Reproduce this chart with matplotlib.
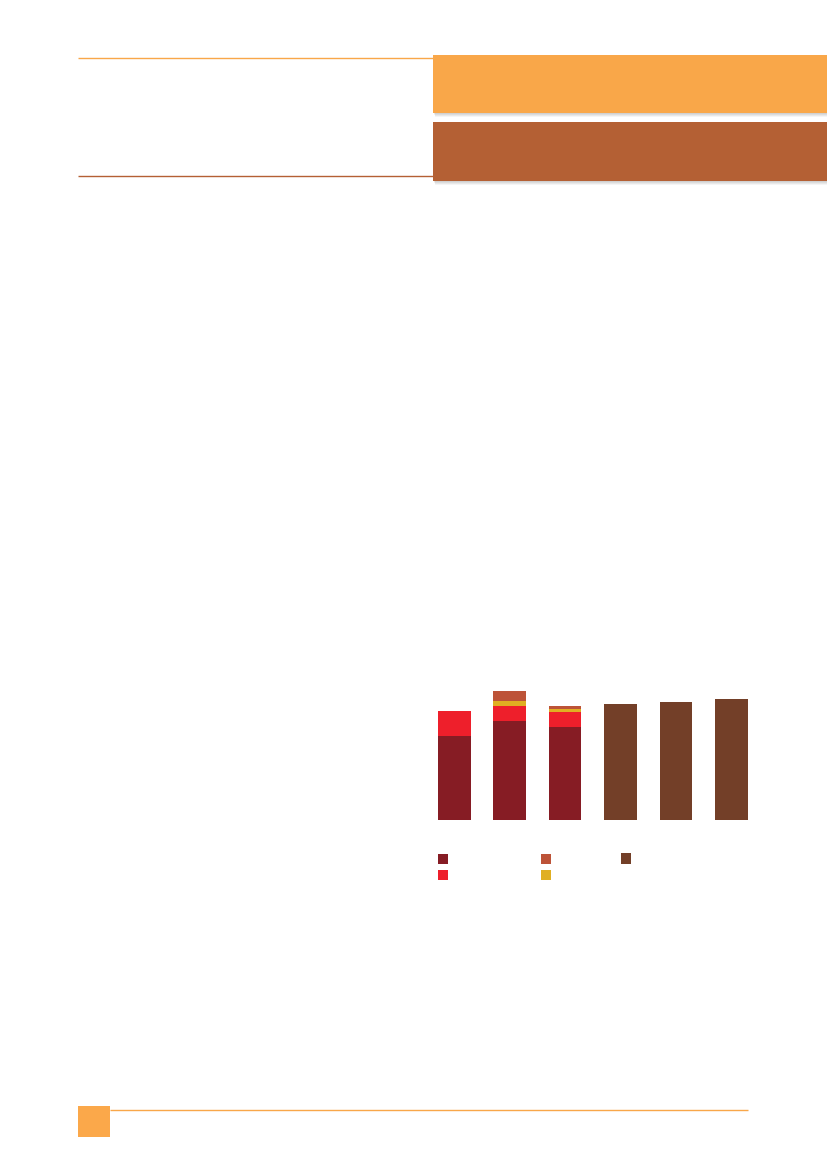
import matplotlib
matplotlib.use("Agg")
import matplotlib.pyplot as plt
from matplotlib.patches import Rectangle
import numpy as np

# ---- data (arbitrary units) ----
categories = ["1", "2", "3", "4", "5", "6"]
series_dark = [84, 98.7, 93.3, 0, 0, 0]
series_red = [25.3, 15.3, 15.0, 0, 0, 0]
series_yellow = [0, 4.7, 3.0, 0, 0, 0]
series_orange = [0, 10.3, 2.7, 0, 0, 0]
series_brown = [0, 0, 0, 116, 118.3, 121.3]

c_dark = "#861C24"
c_red = "#EE1F2B"
c_yellow = "#E0AF22"
c_orange = "#BD5338"
c_brown = "#733F28"
c_head1 = "#F9A749"
c_head2 = "#B46034"

W, H = 827, 1169
fig = plt.figure(figsize=(W / 100, H / 100), dpi=100)
fig.patch.set_facecolor("white")

# background axes in pixel coordinates for page decoration
bg = fig.add_axes([0, 0, 1, 1])
bg.set_xlim(0, W)
bg.set_ylim(H, 0)
bg.axis("off")

# header lines
bg.plot([78, 433], [58.3, 58.3], color=c_head1, lw=1.0, solid_capstyle="butt")
bg.plot([78, 433], [176.3, 176.3], color=c_head2, lw=1.0, solid_capstyle="butt")

# header boxes with soft shadow
for (y0, y1, col) in [(54.7, 113.3, c_head1), (121.7, 180.7, c_head2)]:
    for k, a in enumerate([0.05, 0.05, 0.05, 0.04]):
        off = 1 + k
        bg.add_patch(Rectangle((433 + off * 0.5, y0 + off), W - 433, y1 - y0,
                               facecolor="black", alpha=a, lw=0))
    bg.add_patch(Rectangle((433, y0), W - 433, y1 - y0, facecolor=col, lw=0))

# footer
bg.add_patch(Rectangle((78, 1105.7), 31.6, 31.3, facecolor="#FBA84A", lw=0))
bg.plot([109.6, 747.5], [1110.3, 1110.3], color=c_head1, lw=1.0, solid_capstyle="butt")

# legend squares (labels absent in reference)
legend_items = [(438, 853.5, c_dark), (438, 869.5, c_red),
                (541, 853.5, c_orange), (541, 869.5, c_yellow),
                (621, 853, c_brown)]
for (x, y, col) in legend_items:
    bg.add_patch(Rectangle((x, y), 10.3, 10.5, facecolor=col, lw=0))

# ---- chart axes ----
left_px, right_px = 426.6, 759.0
base_px, top_px = 820.0, 680.0
ax = fig.add_axes([left_px / W, (H - base_px) / H, (right_px - left_px) / W,
                   (base_px - top_px) / H])
ax.set_xlim(-0.5, 5.5)
ax.set_ylim(0, 140)
ax.axis("off")

x = np.arange(len(categories))
wid = 0.59
b = np.zeros(len(categories))
for vals, col in [(series_dark, c_dark), (series_red, c_red),
                  (series_yellow, c_yellow), (series_orange, c_orange),
                  (series_brown, c_brown)]:
    v = np.array(vals, dtype=float)
    ax.bar(x, v, wid, bottom=b, color=col, linewidth=0)
    b += v

fig.savefig("out.png", dpi=100)
